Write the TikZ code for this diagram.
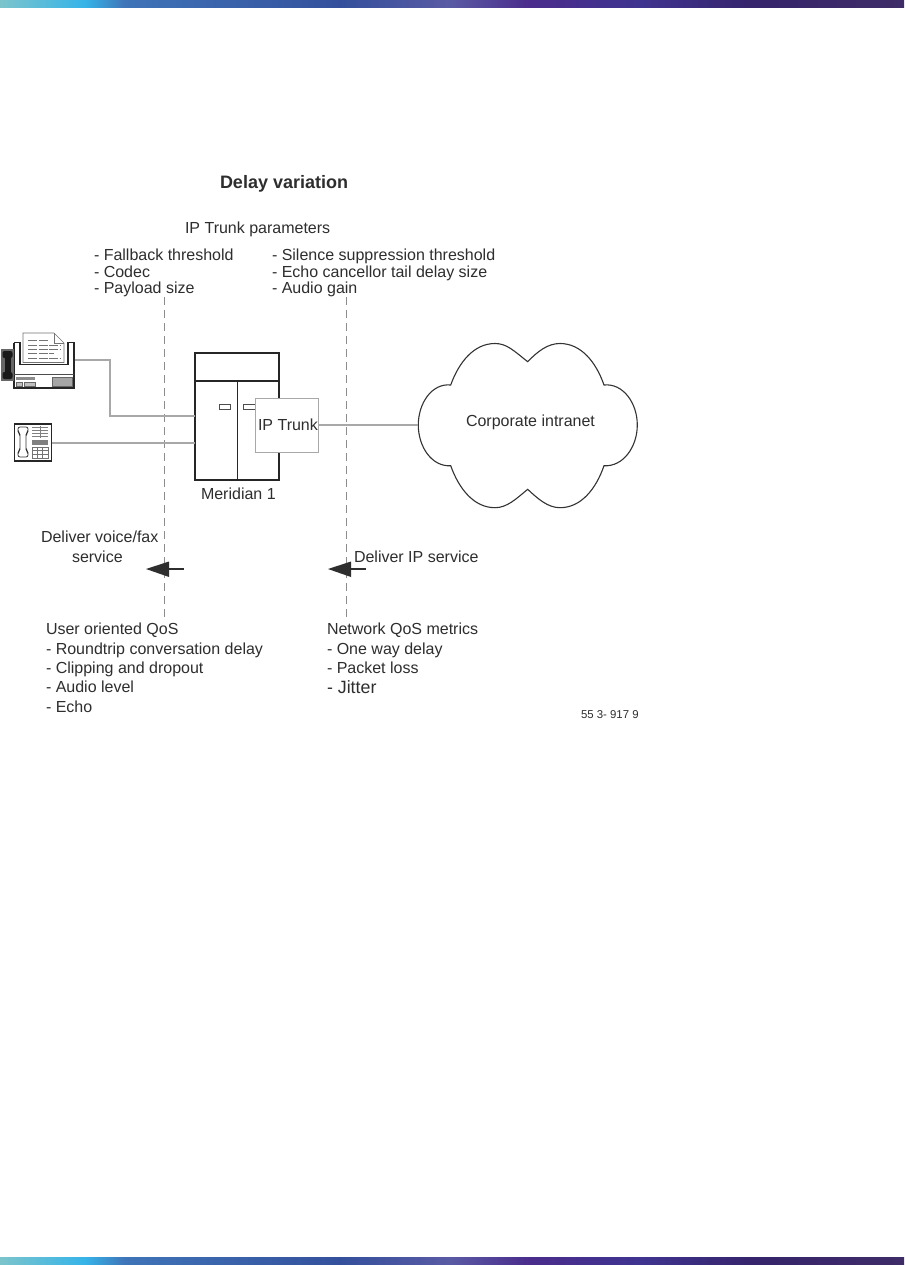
\documentclass[tikz,border=0pt]{standalone}
\usepackage{fontspec}
\setmainfont{Liberation Sans}
\definecolor{ink}{HTML}{2E2E2E}
\definecolor{wire}{HTML}{A8A8A8}
\definecolor{dash}{HTML}{8C8C8C}
\definecolor{cA}{HTML}{7CC4CC}
\definecolor{cB}{HTML}{36B4E8}
\definecolor{cC}{HTML}{3F74B8}
\definecolor{cD}{HTML}{34509C}
\definecolor{cE}{HTML}{5A5AA4}
\definecolor{cF}{HTML}{4A2C8C}
\definecolor{cG}{HTML}{3F3490}
\definecolor{cH}{HTML}{36246C}
\definecolor{cI}{HTML}{3E2C68}
\tikzset{
  x=1pt,y=-1pt,
  txt/.style={anchor=base west,inner sep=0pt,outer sep=0pt,text=ink,font=\fontsize{16}{18}\selectfont},
  hw/.style={draw=black!85,line width=1.3pt},
  thin hw/.style={draw=black!70,line width=0.7pt},
  wireline/.style={draw=wire,line width=1.1pt},
  qos/.style={draw=dash,line width=0.9pt,dash pattern=on 8pt off 5pt},
  arrowshaft/.style={draw=ink,line width=1.8pt},
  arrowhead/.style={fill=ink,draw=none},
  boxnode/.style={inner sep=0pt,outer sep=0pt,anchor=north west},
}
\newcommand{\barstrip}[2]{%
  \shade[left color=cA,right color=cB] (0,#1) rectangle (85,#2);
  \shade[left color=cB,right color=cC] (85,#1) rectangle (125,#2);
  \shade[left color=cC,right color=cD] (125,#1) rectangle (340,#2);
  \shade[left color=cD,right color=cE] (340,#1) rectangle (450,#2);
  \shade[left color=cE,right color=cF] (450,#1) rectangle (530,#2);
  \shade[left color=cF,right color=cG] (530,#1) rectangle (640,#2);
  \shade[left color=cG,right color=cH] (640,#1) rectangle (750,#2);
  \shade[left color=cH,right color=cI] (750,#1) rectangle (904,#2);
}
\begin{document}
\begin{tikzpicture}
\useasboundingbox (0,0) rectangle (904,1265);
\fill[white] (0,0) rectangle (904,1265);
\barstrip{0}{7.5}
\barstrip{1257}{1265}

% titles and lists
\node[txt,font=\bfseries\fontsize{18}{20}\selectfont] (title) at (220,189) {Delay variation};
\node[txt] (params) at (185,234) {IP Trunk parameters};
\node[txt] (l1) at (94,261) {- Fallback threshold};
\node[txt] (l2) at (94,277) {- Codec};
\node[txt] (l3) at (94,293) {- Payload size};
\node[txt] (r1) at (272,261) {- Silence suppression threshold};
\node[txt] (r2) at (272,277) {- Echo cancellor tail delay size};
\node[txt] (r3) at (272,293) {- Audio gain};

% QoS boundaries
\coordinate (qa1) at (164,297); \coordinate (qa2) at (164,617);
\coordinate (qb1) at (346.5,297); \coordinate (qb2) at (346.5,617);
\draw[qos] (qa1) -- (qa2);
\draw[qos] (qb1) -- (qb2);

% Meridian 1 cabinet
\node[boxnode,hw,minimum width=84pt,minimum height=127pt] (cab) at (195,353) {};
\draw[hw] (195,381) -- (279,381);
\draw[hw] (237.5,381) -- (237.5,480);
\draw[thin hw] (219.5,404.5) rectangle (230,409.5);
\draw[thin hw] (243.5,404.5) rectangle (255,409.5);
\node[txt] (mer) at (201,499) {Meridian 1};

% IP Trunk
\node[boxnode,draw=wire,line width=1pt,fill=white,minimum width=63pt,minimum height=54pt] (ip) at (255,398) {};
\node[txt] (iplabel) at (258,430) {IP Trunk};

% fax
\node[boxnode,minimum width=60pt,minimum height=46pt] (fax) at (14,342) {};
\draw[hw] (14,342.5) -- (14,388) -- (74,388) -- (74,342.5) -- (68,342.5) -- (68,364.5) -- (20,364.5) -- (20,342.5) -- (14,342.5);
\draw[black!70,line width=.8pt] (14,374.5) -- (74,374.5);
\draw[black!55,line width=.6pt,fill=white] (23,333) -- (54,333) -- (64,343) -- (64,362.5) -- (23,362.5) -- cycle;
\draw[black!55,line width=.5pt] (54,333) -- (54,343) -- (64,343);
\foreach \yy/\xa/\xb in {340.7/28/48,345/28/60,349/28/60,353/28/54,358/28/60}{
  \draw[black!55,line width=.7pt,dash pattern=on 9pt off 1.5pt] (\xa,\yy) -- (\xb,\yy);}
\fill[black!45] (16,377) rectangle (35,379.5);
\draw[black!60,line width=.5pt,fill=black!25] (16,382) rectangle (22,386);
\draw[black!60,line width=.5pt,fill=black!25] (24,382) rectangle (35,386);
\draw[black!60,line width=.6pt,fill=black!35] (52.5,377) rectangle (72,386);
% fax handset
\fill[black!60] (1,349) rectangle (14,381);
\fill[black!90,rounded corners=2pt] (2.5,351) rectangle (12.5,358);
\fill[black!90,rounded corners=2pt] (2.5,372) rectangle (12.5,379);
\fill[black!90] (4.5,355) rectangle (10.5,375);

% phone
\node[boxnode,draw=black!85,line width=1.1pt,minimum width=37pt,minimum height=37pt] (phone) at (14.5,424) {};
\draw[black!80,line width=.8pt,rounded corners=2pt] (18,427) -- (28,427) -- (28,432) -- (26,434) -- (26,450) -- (28,452) -- (28,457) -- (18,457) -- (18,452) -- (20,450) -- (20,434) -- (18,432) -- cycle;
\foreach \yy in {427,430,433,436}{\draw[black!50,line width=.9pt] (32,\yy) -- (48,\yy);}
\draw[black!50,line width=.6pt] (40,426) -- (40,437.5);
\fill[black!50] (32,440) rectangle (48,445);
\draw[black!55,line width=.5pt] (32,447) rectangle (48,458);
\foreach \xx in {37.3,42.6}{\draw[black!55,line width=.5pt] (\xx,447) -- (\xx,458);}
\foreach \yy in {450.7,454.4}{\draw[black!55,line width=.5pt] (32,\yy) -- (48,\yy);}

% cloud
\draw[draw=black!80,line width=1.1pt,fill=white]
  (527.7,361.7) .. controls (514,351) and (507,343.5) .. (495,343.5)
  .. controls (474,343.5) and (459,362) .. (450.7,385)
  .. controls (432,383) and (418.3,403) .. (418.3,425)
  .. controls (418.3,447) and (432,467) .. (450.7,465.7)
  .. controls (459,489) and (474,507.7) .. (495,507.7)
  .. controls (507,507.7) and (516,499) .. (527.7,489.3)
  .. controls (538,499) and (548,507.7) .. (560,507.7)
  .. controls (581,507.7) and (596,489) .. (604,465.7)
  .. controls (623,467) and (637.3,447) .. (637.3,425)
  .. controls (637.3,403) and (623,383) .. (604,385)
  .. controls (596,362) and (581,343.5) .. (560,343.5)
  .. controls (548,343.5) and (538,351) .. (527.7,361.7) -- cycle;
\coordinate (cloudW) at (418.3,425);
\node[txt] (net) at (466,426.5) {Corporate intranet};

% connectors
\coordinate (faxbend1) at (110,360); \coordinate (faxbend2) at (110,416);
\coordinate (faxout) at (74.6,360); \coordinate (cabfax) at (195,416);
\coordinate (phoneout) at (51.5,443); \coordinate (cabphone) at (195,443);
\draw[wireline] (faxout) -- (faxbend1) -- (faxbend2) -- (cabfax);
\draw[wireline] (phoneout) -- (cabphone);
\draw[wireline] (ip.east |- cloudW) -- (cloudW);

% service arrows
\coordinate (aTip) at (146,569); \coordinate (aTail) at (184,569);
\coordinate (bTip) at (328,569); \coordinate (bTail) at (366,569);
\draw[arrowshaft] (aTail) -- (165,569);
\fill[arrowhead] (aTip) -- (169,561.5) -- (169,577) -- cycle;
\draw[arrowshaft] (bTail) -- (347,569);
\fill[arrowhead] (bTip) -- (351,561.5) -- (351,577) -- cycle;

\node[txt] (d1) at (41,542) {Deliver voice/fax};
\node[txt] (d2) at (72,562) {service};
\node[txt] (d3) at (354,562) {Deliver IP service};

\node[txt] (u0) at (46,634) {User oriented QoS};
\node[txt] (u1) at (46,654) {- Roundtrip conversation delay};
\node[txt] (u2) at (46,673) {- Clipping and dropout};
\node[txt] (u3) at (46,692) {- Audio level};
\node[txt] (u4) at (46,712) {- Echo};

\node[txt] (n0) at (327,634) {Network QoS metrics};
\node[txt] (n1) at (327,654) {- One way delay};
\node[txt] (n2) at (327,673) {- Packet loss};
\node[txt,font=\fontsize{17.8}{20}\selectfont] (n3) at (327,693) {- Jitter};

\node[txt,font=\fontsize{11.4}{14}\selectfont] (fig) at (581,718) {55 3- 917 9};
\end{tikzpicture}
\end{document}
